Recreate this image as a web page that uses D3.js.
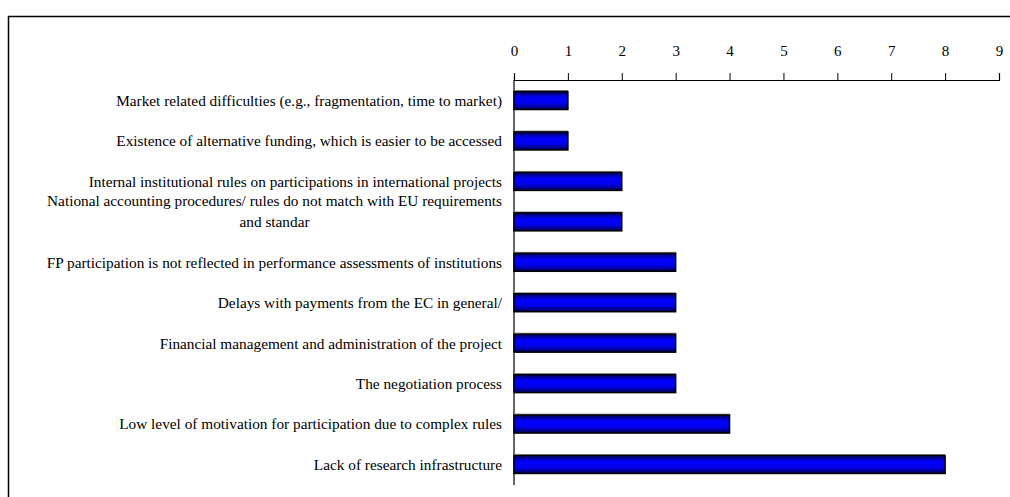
<!DOCTYPE html>
<html>
<head>
<meta charset="utf-8">
<script src="https://cdn.jsdelivr.net/npm/d3@7"></script>
<style>
  body { margin: 0; background: #fff; }
  svg { display: block; }
</style>
</head>
<body>
<svg width="1010" height="497"></svg>
<script>
const categories = [
  ["Market related difficulties (e.g., fragmentation, time to market)"],
  ["Existence of alternative funding, which is easier to be accessed"],
  ["Internal institutional rules on participations in international projects"],
  ["National accounting procedures/ rules do not match with EU requirements", "and standar"],
  ["FP participation is not reflected in performance assessments of institutions"],
  ["Delays with payments from the EC in general/"],
  ["Financial management and administration of the project"],
  ["The negotiation process"],
  ["Low level of motivation for participation due to complex rules"],
  ["Lack of research infrastructure"]
];
const values = [1, 1, 2, 2, 3, 3, 3, 3, 4, 8];
const ticks = [0, 1, 2, 3, 4, 5, 6, 7, 8, 9];

const data = categories.map((c, i) => ({ lines: c, key: i, value: values[i] }));

const plotLeft = 514, plotRight = 999, plotTop = 80, plotBottom = 485;
const font = "'Liberation Serif', 'Times New Roman', serif";

const svg = d3.select("svg");

// outer frame (only left and top edges visible)
svg.append("rect")
  .attr("x", 8.5).attr("y", 16.5)
  .attr("width", 1100).attr("height", 600)
  .attr("fill", "none")
  .attr("stroke", "#000")
  .attr("stroke-width", 1.5);

const defs = svg.append("defs");
const grad = defs.append("linearGradient")
  .attr("id", "barGrad")
  .attr("x1", 0).attr("y1", 0).attr("x2", 0).attr("y2", 1);
grad.append("stop").attr("offset", "0%").attr("stop-color", "#000050");
grad.append("stop").attr("offset", "35%").attr("stop-color", "#0000ff");
grad.append("stop").attr("offset", "65%").attr("stop-color", "#0000f0");
grad.append("stop").attr("offset", "100%").attr("stop-color", "#000050");

const x = d3.scaleLinear().domain([0, 9]).range([plotLeft, plotRight]);
const y = d3.scaleBand()
  .domain(data.map(d => d.key))
  .range([plotTop, plotBottom])
  .paddingInner(0.555)
  .paddingOuter(0.285);

// top axis
const xAxis = d3.axisTop(x).tickValues(ticks).tickSize(7).tickPadding(17).tickFormat(d3.format("d"));
const gx = svg.append("g")
  .attr("transform", `translate(0, ${plotTop})`)
  .call(xAxis);
gx.select(".domain").attr("stroke", "#000").attr("stroke-width", 1.2);
gx.selectAll(".tick line").attr("stroke", "#000");
gx.selectAll("text")
  .attr("font-family", font)
  .attr("font-size", "15px")
  .attr("fill", "#000");

// vertical category axis line
svg.append("line")
  .attr("x1", plotLeft).attr("x2", plotLeft)
  .attr("y1", plotTop).attr("y2", plotBottom)
  .attr("stroke", "#000")
  .attr("stroke-width", 1.2);

// bar shadows
svg.selectAll("rect.shadow").data(data).enter().append("rect")
  .attr("class", "shadow")
  .attr("x", x(0))
  .attr("y", d => y(d.key) - 1.5)
  .attr("width", d => x(d.value) - x(0))
  .attr("height", y.bandwidth())
  .attr("fill", "#999");

// bars
svg.selectAll("rect.bar").data(data).enter().append("rect")
  .attr("class", "bar")
  .attr("x", x(0))
  .attr("y", d => y(d.key))
  .attr("width", d => x(d.value) - x(0))
  .attr("height", y.bandwidth())
  .attr("fill", "url(#barGrad)")
  .attr("stroke", "#000")
  .attr("stroke-width", 1.5);

// category labels
const labels = svg.selectAll("g.label").data(data).enter().append("g")
  .attr("class", "label")
  .attr("font-family", font)
  .attr("font-size", "15.3px")
  .attr("fill", "#000");

labels.each(function(d) {
  const g = d3.select(this);
  const cy = y(d.key) + y.bandwidth() / 2;
  const n = d.lines.length;
  const first = g.append("text")
    .attr("x", 502)
    .attr("y", cy - (n - 1) * 21)
    .attr("dy", "0.35em")
    .attr("text-anchor", "end")
    .text(d.lines[0]);
  if (n > 1) {
    const w = first.node().getComputedTextLength();
    for (let i = 1; i < n; i++) {
      g.append("text")
        .attr("x", 502 - w / 2)
        .attr("y", cy - (n - 1 - i) * 21)
        .attr("dy", "0.35em")
        .attr("text-anchor", "middle")
        .text(d.lines[i]);
    }
  }
});
</script>
</body>
</html>
